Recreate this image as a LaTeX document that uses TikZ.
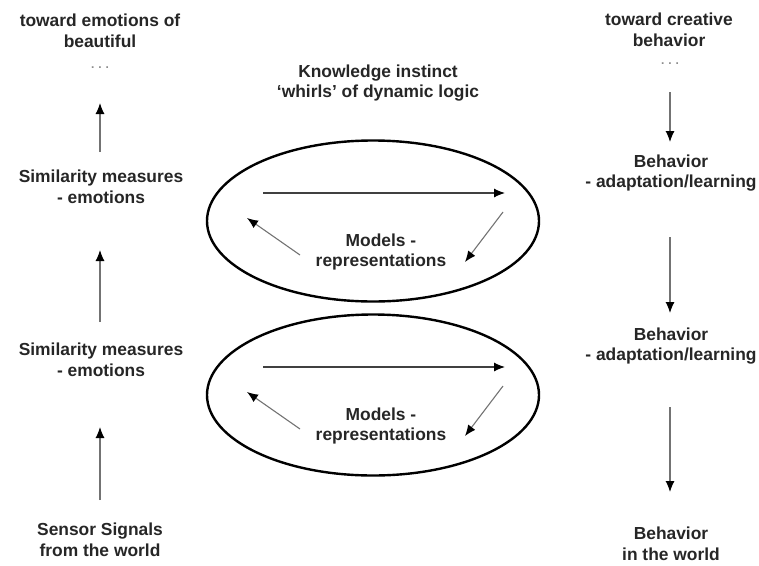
\documentclass[tikz,border=0pt]{standalone}
\usepackage{fontspec}
\setmainfont{Liberation Sans}
\usetikzlibrary{arrows.meta,shapes.geometric}

\begin{document}
\begin{tikzpicture}[x=1pt, y=-1pt,
    lbl/.style={align=center, inner sep=0pt, text=black!85,
                font=\bfseries\fontsize{17.4}{20.5}\selectfont},
    dots/.style={inner sep=0pt, text=black!45, font=\bfseries\fontsize{12}{12}\selectfont},
    arr/.style={draw=black!55, line width=1.1pt, -{Latex[length=11pt,width=9pt,black]}},
    whirl/.style={ellipse, draw=black, line width=2.4pt, inner sep=0pt,
                  minimum width=332pt, minimum height=161pt}]
  \useasboundingbox (0,0) rectangle (759,565);

  % left column: signals up to emotions
  \node[lbl] (towardL) at (100,31) {toward emotions of\\beautiful};
  \node[dots] (dotsL) at (100,68) {.\hspace{4pt}.\hspace{4pt}.};
  \node[lbl] (simA) at (101,187) {Similarity measures\\- emotions};
  \node[lbl] (simB) at (101,360) {Similarity measures\\- emotions};
  \node[lbl] (sensor) at (100,540) {Sensor Signals\\from the world};

  \draw[arr, shorten <=35pt, shorten >=35pt] (simA.center -| dotsL) -- (dotsL.center);
  \draw[arr, shorten <=38pt, shorten >=63pt] (simB.center -| dotsL) -- (simA.center -| dotsL);
  \draw[arr, shorten <=40pt, shorten >=67pt] (sensor.center) -- (simB.center -| dotsL);

  % right column: behavior down to the world
  \node[lbl] (towardR) at (669,30) {toward creative\\behavior};
  \node[dots] (dotsR) at (670,64) {.\hspace{4pt}.\hspace{4pt}.};
  \node[lbl] (behA) at (671,173) {Behavior\\- adaptation/learning};
  \node[lbl] (behB) at (671,346) {Behavior\\- adaptation/learning};
  \node[lbl] (behW) at (671,544) {Behavior\\in the world};

  \draw[arr, shorten <=28pt, shorten >=31pt] (dotsR.center) -- (behA.center -| dotsR);
  \draw[arr, shorten <=64pt, shorten >=33pt] (behA.center -| dotsR) -- (behB.center -| dotsR);
  \draw[arr, shorten <=61pt, shorten >=52pt] (behB.center -| dotsR) -- (behW.center -| dotsR);

  % middle: the two whirls
  \node[lbl] (title) at (378,83) {Knowledge instinct\\`whirls' of dynamic logic};

  \foreach \n/\y in {A/221, B/395} {
    \node[whirl] (whirl\n) at (373,\y) {};
    \node[lbl] (models\n) at (381,\y+31) {Models -\\representations};
    \coordinate (topL\n) at (263,\y-28);
    \coordinate (topR\n) at (505,\y-28);
    \coordinate (dnA\n) at (503,\y-9);
    \coordinate (dnB\n) at (465,\y+41);
    \coordinate (upA\n) at (300,\y+34);
    \coordinate (upB\n) at (247,\y-3);
    \draw[arr, draw=black!75] (topL\n) -- (topR\n);
    \draw[arr] (dnA\n) -- (dnB\n);
    \draw[arr] (upA\n) -- (upB\n);
  }
\end{tikzpicture}
\end{document}
